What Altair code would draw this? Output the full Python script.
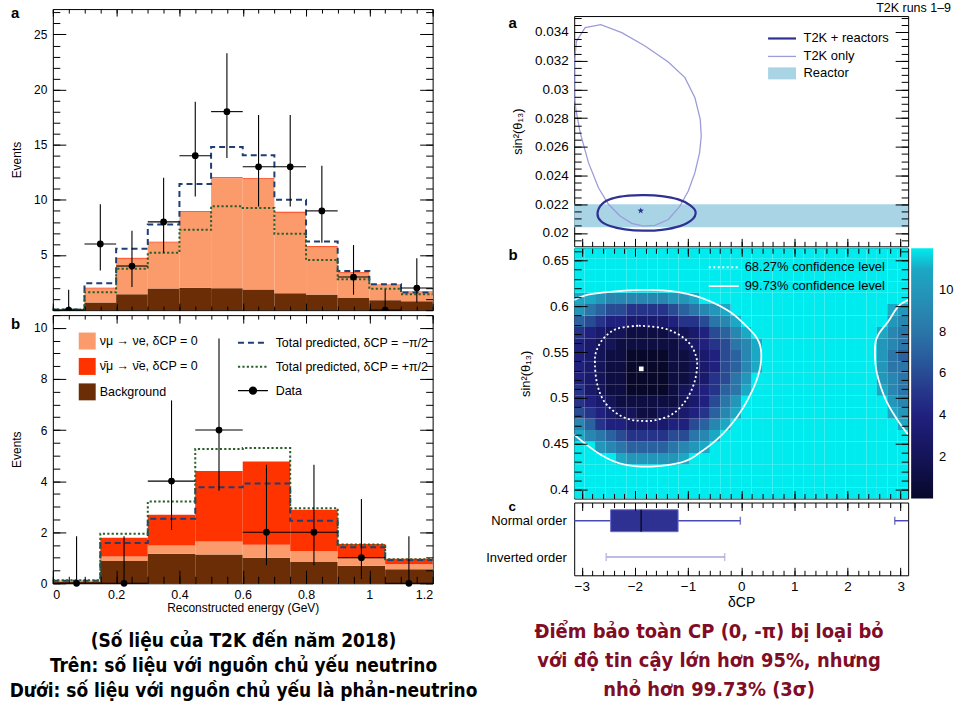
import altair as alt
import numpy as np
import pandas as pd

PI = float(np.pi)
FONT = "Liberation Sans"
CAPFONT = "Liberation Sans Narrow, DejaVu Sans Condensed, Liberation Sans"

# ---------------- colours ----------------
C_NUE, C_ANTI, C_BG = "#fb9b6c", "#ff3300", "#6b2d06"
C_MINUS, C_PLUS = "#1f3f73", "#2c5f2c"
C_T2KR, C_T2K, C_REACT = "#2e3192", "#9c9cda", "#a9d4e6"
C_CAPTION = "#800d25"

# ---------------- labels ----------------
L_NUE = "νμ → νe, δCP = 0"
L_ANTI = "ν\u0304μ → ν\u0304e, δCP = 0"
L_BG = "Background"
L_MINUS = "Total predicted, δCP = −π/2"
L_PLUS = "Total predicted, δCP = +π/2"
L_DATA = "Data"

# ================= LEFT: reconstructed energy spectra =================
# panel a : neutrino-mode sample, 0.1 GeV bins
a_edges = [0.0, 0.1, 0.2, 0.3, 0.4, 0.5, 0.6, 0.7, 0.8, 0.9, 1.0, 1.1, 1.2]
a_background = [0.05, 0.69, 1.44, 1.96, 2.02, 1.99, 1.87, 1.53, 1.41, 1.11, 0.90, 0.81]
a_nue_top = [0.07, 1.96, 4.66, 6.14, 8.93, 11.97, 11.88, 8.84, 5.72, 3.37, 2.26, 1.62]
a_anti_top = [0.08, 2.02, 4.74, 6.20, 9.00, 12.05, 11.96, 8.92, 5.80, 3.43, 2.32, 1.68]
a_pred_minus = [0.05, 2.44, 5.57, 7.76, 11.43, 14.80, 14.05, 10.02, 6.23, 3.55, 2.35, 1.60]
a_pred_plus = [0.05, 1.62, 3.76, 5.20, 7.28, 9.42, 9.27, 6.92, 4.54, 2.80, 1.93, 1.44]
a_data = [0, 6, 4, 8, 14, 18, 13, 13, 9, 3, 0, 2]
a_err_lo = [0, 3.6, 2.1, 5.2, 10.3, 13.8, 9.4, 9.4, 6.1, 1.4, 0, 0.7]
a_err_hi = [1.84, 9.6, 7.2, 12.0, 18.9, 23.3, 17.7, 17.7, 13.1, 5.9, 1.9, 4.7]

# panel b : antineutrino-mode sample, 0.15 GeV bins
b_edges = [0.0, 0.15, 0.3, 0.45, 0.6, 0.75, 0.9, 1.05, 1.2]
b_background = [0.07, 0.87, 1.16, 1.13, 1.00, 0.83, 0.69, 0.55]
b_nue_top = [0.09, 1.05, 1.48, 1.64, 1.51, 1.26, 0.98, 0.74]
b_anti_top = [0.10, 1.78, 2.68, 4.40, 4.77, 2.88, 1.54, 0.96]
b_pred_minus = [0.10, 1.58, 2.53, 3.76, 3.91, 2.45, 1.41, 0.91]
b_pred_plus = [0.12, 1.94, 3.20, 5.26, 5.30, 2.94, 1.52, 0.94]
b_data = [0, 0, 4, 6, 2, 2, 1, 0]
b_err_lo = [0, 0, 2.09, 3.62, 0.71, 0.71, 0.17, 0]
b_err_hi = [1.84, 1.84, 7.16, 9.58, 4.64, 4.64, 3.30, 1.84]

E_DOM = [0.0, 1.2]
A_DOM = [0.0, 27.3]
B_DOM = [0.0, 10.5]
e_major = [0.0, 0.2, 0.4, 0.6, 0.8, 1.0, 1.2]
e_minor = [round(0.05 * i, 2) for i in range(25)]
a_major = [5, 10, 15, 20, 25]
a_minor = list(range(0, 28))
b_major = [0, 2, 4, 6, 8, 10]
b_minor = [0.5 * i for i in range(22)]

# ================= RIGHT =================
D_DOM = [-PI, PI]
d_major = [-3, -2, -1, 0, 1, 2, 3]
d_minor = [round(-3.0 + 0.2 * i, 1) for i in range(31)]

# panel a : sin^2(theta13) vs delta_CP
t2k_only_d = [-PI, -PI, -3.098, -2.935, -2.641, -2.247, -1.809, -1.371, -1.058, -0.870, -0.770,
              -0.751, -0.782, -0.870, -0.995, -1.152, -1.371, -1.621, -1.840, -2.059, -2.278,
              -2.497, -2.685, -2.873, -3.029, -3.110, -PI]
t2k_only_s = [0.02954, 0.0318, 0.03337, 0.0343, 0.03451, 0.03395, 0.03302, 0.03191, 0.03082,
              0.02942, 0.02791, 0.02675, 0.02559, 0.0242, 0.02292, 0.02187, 0.02094, 0.02053,
              0.02048, 0.02067, 0.02118, 0.0220, 0.02315, 0.0249, 0.02699, 0.02861, 0.02954]
t2k_r_d = [-2.703, -2.622, -2.434, -2.122, -1.809, -1.496, -1.183, -0.964, -0.857, -0.932,
           -1.152, -1.496, -1.840, -2.184, -2.466, -2.641]
t2k_r_s = [0.02136, 0.0220, 0.02239, 0.0226, 0.02264, 0.02257, 0.02234, 0.02194, 0.02146,
           0.0209, 0.02048, 0.02022, 0.02016, 0.02025, 0.02048, 0.02083]
best_a = (-1.89, 0.02155)
reactor_band = (0.0204, 0.0220)
RA_DOM = [0.01907, 0.03511]
ra_major = [0.02, 0.022, 0.024, 0.026, 0.028, 0.03, 0.032, 0.034]
ra_minor = [round(0.0195 + 0.0005 * i, 4) for i in range(32)]

# panel b : delta chi^2 map (rows bottom->top, 0.0125 wide from 0.39; 32 delta columns)
# digit = delta chi^2 (hex, C = saturated)
heat_rows = [
    "C" * 32,
    "C" * 32,
    "C" * 32,
    "CCCCBAAAAAB" + "C" * 21,
    "CCA98777789AB" + "C" * 19,
    "B987655556689B" + "C" * 18,
    "97544333344679B" + "C" * 16 + "B",
    "654322112234579B" + "C" * 14 + "BA",
    "543211111123468A" + "C" * 14 + "A9",
    "5321100001234578B" + "C" * 12 + "B98",
    "4321100001123568A" + "C" * 12 + "A98",
    "43211000011234679B" + "C" * 11 + "A88",
    "43211000011234679B" + "C" * 11 + "A87",
    "43221111112345689B" + "C" * 11 + "A98",
    "5432211112234679B" + "C" * 12 + "B98",
    "765443333455689B" + "C" * 14 + "A9",
    "A876655556789AB" + "C" * 15 + "BA",
    "BBA999999AAB" + "C" * 20,
    "C" * 32,
    "C" * 32,
    "C" * 32,
    "C" * 32,
]
heat_s0, heat_ds = 0.39, 0.0125
heat_stops = [0, 1, 2, 3, 4, 5, 6, 7, 8, 9, 10, 11, 11.8, 12]
heat_colors = ["#08082a", "#0e0e42", "#141458", "#1a1a6c", "#20217e", "#253488", "#284b94",
               "#2a619f", "#2a76a9", "#2887b1", "#2397b9", "#1ba8c4", "#14bccf", "#00ebee"]
cl68_d = [-1.925, -1.487, -1.174, -0.955, -0.849, -0.830, -0.893, -1.049, -1.299, -1.612, -1.863,
          -2.113, -2.363, -2.582, -2.707, -2.751, -2.726, -2.582, -2.332, -1.925]
cl68_s = [0.5789, 0.5764, 0.5692, 0.5583, 0.5456, 0.5329, 0.5148, 0.4967, 0.4822, 0.4757, 0.475,
          0.4768, 0.484, 0.4967, 0.5148, 0.5366, 0.5511, 0.5655, 0.5757, 0.5789]
cl997_left_d = [-PI, -2.86, -2.24, -1.74, -1.236, -0.737, -0.236, 0.14, 0.327, 0.378, 0.34, 0.20,
                -0.046, -0.36, -0.737, -1.11, -1.74, -2.24, -2.61, -2.93, -PI]
cl997_left_s = [0.607, 0.613, 0.617, 0.618, 0.616, 0.609, 0.595, 0.576, 0.562, 0.547, 0.529, 0.507,
                0.482, 0.460, 0.442, 0.430, 0.425, 0.428, 0.437, 0.450, 0.460]
cl997_right_d = [PI, 2.956, 2.768, 2.58, 2.518, 2.548, 2.706, 2.93, PI]
cl997_right_s = [0.607, 0.600, 0.5837, 0.569, 0.555, 0.529, 0.50, 0.477, 0.46]
best_b = (-1.88, 0.5318)
RB_DOM = [0.3902, 0.6634]
rb_major = [0.4, 0.45, 0.5, 0.55, 0.6, 0.65]
rb_minor = [round(0.39 + 0.01 * i, 2) for i in range(28)]
L68, L997 = "68.27% confidence level", "99.73% confidence level"

# panel c : 1D intervals
orders = ["Normal order", "Inverted order"]
box_q1, box_med, box_q3 = -2.456, -1.882, -1.187
normal_whiskers = [(-PI, -0.016), (2.89, PI)]
inverted_whisker = (-2.54, -0.31)

DATA_SYM = ("M-3,0H3M-0.7,0A0.7,0.7,0,1,0,0.7,0A0.7,0.7,0,1,0,-0.7,0Z"
            "M-0.45,0A0.45,0.45,0,1,0,0.45,0A0.45,0.45,0,1,0,-0.45,0Z"
            "M-0.2,0A0.2,0.2,0,1,0,0.2,0A0.2,0.2,0,1,0,-0.2,0Z")
LINE_SYM = "M-3,0H3"
LINE_SYM_R = "M-2.8,0H2.8"
RECT_SYM = "M-2.8,-1.2H2.8V1.2H-2.8Z"
STAR = "M0,-1L0.24,-0.33L0.95,-0.31L0.38,0.12L0.59,0.81L0,0.4L-0.59,0.81L-0.38,0.12L-0.95,-0.31L-0.24,-0.33Z"


# ---------------- helpers ----------------
def qx(field, dom, **kw):
    return alt.X(f"{field}:Q", scale=alt.Scale(domain=dom, nice=False, zero=False), axis=None, **kw)


def qy(field, dom, **kw):
    return alt.Y(f"{field}:Q", scale=alt.Scale(domain=dom, nice=False, zero=False), axis=None, **kw)


def ynom(axis=None):
    return alt.Y("o:N", scale=alt.Scale(domain=orders, type="point", padding=0.5), axis=axis, title=None)


def tick_axis(orient, values, size, labels=False, fmt=None, title=None, lsize=12, lpad=5,
              tpad=None, tsize=12):
    ax = dict(orient=orient, values=values, tickSize=size, offset=-size, domain=False, grid=False,
              labels=labels, ticks=True, tickColor="black", tickWidth=1, zindex=1)
    if labels:
        ax.update(labelFont=FONT, labelFontSize=lsize, labelColor="black", labelPadding=lpad)
        if fmt:
            ax["format"] = fmt
    if title:
        ax.update(titleFont=FONT, titleFontSize=tsize, titleFontWeight="normal", titleColor="black")
        if tpad is not None:
            ax["titlePadding"] = tpad
    return alt.Axis(**ax)


def xaxis_layer(dom, ydom, orient, values, size, **kw):
    title = kw.get("title")
    if ydom is None:
        df = pd.DataFrame({"ax": [dom[0]], "o": [orders[0]]})
        yenc = ynom()
    else:
        df = pd.DataFrame({"ax": [dom[0]], "ay": [ydom[0]]})
        yenc = qy("ay", ydom)
    return alt.Chart(df).mark_point(opacity=0, size=0).encode(
        x=alt.X("ax:Q", scale=alt.Scale(domain=dom, nice=False, zero=False),
                axis=tick_axis(orient, values, size, **kw), title=title if title else None),
        y=yenc)


def yaxis_layer(dom, xdom, orient, values, size, **kw):
    title = kw.get("title")
    df = pd.DataFrame({"ay": [dom[0]], "ax": [xdom[0]]})
    return alt.Chart(df).mark_point(opacity=0, size=0).encode(
        y=alt.Y("ay:Q", scale=alt.Scale(domain=dom, nice=False, zero=False),
                axis=tick_axis(orient, values, size, **kw), title=title if title else None),
        x=qx("ax", xdom))


def letter_layer(txt, x, y, size=15, align="left"):
    df = pd.DataFrame({"t": [txt]})
    return alt.Chart(df).mark_text(align=align, baseline="middle", fontWeight="bold", fontSize=size,
                                   font=FONT, color="black").encode(
        x=alt.value(x), y=alt.value(y), text="t:N")


def step_df(edges, vals, name):
    ys = list(vals) + [vals[-1]]
    return pd.DataFrame({"e": list(edges), "v": ys, "series": name, "k": list(range(len(edges)))})


def left_panel(edges, bg, nue, anti, minus, plus, data, lo, hi, ydom, height, ymaj, ymin,
               letter, letter_y, bottom_labels, legends, xt_top, xt_bot, clip_pts):
    rows = []
    for i in range(len(bg)):
        rows.append(dict(x0=edges[i], x1=edges[i + 1], y0=0.0, y1=bg[i], comp=L_BG))
        rows.append(dict(x0=edges[i], x1=edges[i + 1], y0=bg[i], y1=nue[i], comp=L_NUE))
        rows.append(dict(x0=edges[i], x1=edges[i + 1], y0=nue[i], y1=anti[i], comp=L_ANTI))
    rdf = pd.DataFrame(rows)
    fill_leg = None
    line_leg = None
    data_leg = None
    if legends:
        fill_leg = alt.Legend(orient="none", legendX=26, legendY=17.5, title=None, symbolType="square",
                              symbolSize=289, symbolStrokeWidth=0, labelFont=FONT, labelFontSize=12.5,
                              labelColor="black", rowPadding=8.5, labelOffset=4, padding=0,
                              labelLimit=400)
        line_leg = alt.Legend(orient="none", legendX=194.5, legendY=21.5, title=None,
                              symbolType=LINE_SYM, symbolSize=100, symbolStrokeWidth=2,
                              symbolFillColor="transparent", labelFont=FONT, labelFontSize=12.5,
                              labelColor="black", rowPadding=11, labelOffset=16.5, padding=0,
                              labelLimit=400)
        data_leg = alt.Legend(orient="none", legendX=194.5, legendY=69.5, title=None,
                              symbolType=DATA_SYM, symbolSize=100, symbolStrokeWidth=1.3,
                              symbolFillColor="black", symbolStrokeColor="black", labelFont=FONT,
                              labelFontSize=12.5, labelColor="black", labelOffset=16.5, padding=0)
    rect = alt.Chart(rdf).mark_rect().encode(
        x=qx("x0", E_DOM), x2="x1", y=qy("y0", ydom), y2="y1",
        color=alt.Color("comp:N", scale=alt.Scale(domain=[L_NUE, L_ANTI, L_BG],
                                                   range=[C_NUE, C_ANTI, C_BG]), legend=fill_leg))
    sdf = pd.concat([step_df(edges, minus, L_MINUS), step_df(edges, plus, L_PLUS)])
    lines = alt.Chart(sdf).mark_line(interpolate="step-after", strokeWidth=2).encode(
        x=qx("e", E_DOM), y=qy("v", ydom),
        stroke=alt.Stroke("series:N", scale=alt.Scale(domain=[L_MINUS, L_PLUS], range=[C_MINUS, C_PLUS]),
                          legend=line_leg),
        strokeDash=alt.StrokeDash("series:N", scale=alt.Scale(domain=[L_MINUS, L_PLUS],
                                                              range=[[6, 4], [2.2, 2.2]]),
                                  legend=line_leg),
        order="k:Q")
    centers = [(edges[i] + edges[i + 1]) / 2 for i in range(len(data))]
    ddf = pd.DataFrame({"c": centers, "n": data, "lo": lo, "hi": hi, "l": edges[:-1],
                        "r": edges[1:], "lab": L_DATA})
    vbar = alt.Chart(ddf).mark_rule(color="black", strokeWidth=1.1).encode(
        x=qx("c", E_DOM), y=qy("lo", ydom), y2="hi")
    henc = dict(x=qx("l", E_DOM), x2="r", y=qy("n", ydom))
    if legends:
        henc["opacity"] = alt.Opacity("lab:N", scale=alt.Scale(domain=[L_DATA], range=[1.0]),
                                      legend=data_leg)
    hbar = alt.Chart(ddf).mark_rule(color="black", strokeWidth=1.1).encode(**henc)
    pts = alt.Chart(ddf).mark_point(filled=True, fill="black", stroke="black", strokeWidth=1.3,
                                    size=30, opacity=1, clip=clip_pts).encode(
        x=qx("c", E_DOM), y=qy("n", ydom))

    axes = [
        yaxis_layer(ydom, E_DOM, "left", ymaj, 13, labels=True, title="Events", tpad=10, lsize=12, lpad=6),
        yaxis_layer(ydom, E_DOM, "left", ymin, 7),
        yaxis_layer(ydom, E_DOM, "right", ymaj, 13),
        yaxis_layer(ydom, E_DOM, "right", ymin, 7),
        xaxis_layer(E_DOM, ydom, "top", e_major, xt_top[0]),
        xaxis_layer(E_DOM, ydom, "top", e_minor, xt_top[1]),
    ]
    if bottom_labels:
        axes.append(xaxis_layer(E_DOM, ydom, "bottom", e_major, xt_bot[0], labels=True, fmt=".1~f",
                                title="Reconstructed energy (GeV)", tpad=2, lsize=12.5, lpad=5))
    else:
        axes.append(xaxis_layer(E_DOM, ydom, "bottom", e_major, xt_bot[0]))
    axes.append(xaxis_layer(E_DOM, ydom, "bottom", e_minor, xt_bot[1]))
    lay = alt.layer(rect, lines, vbar, hbar, pts, *axes, letter_layer(letter, -42, letter_y))
    return lay.resolve_axis(x="independent", y="independent").properties(width=381, height=height)


A_L = left_panel(a_edges, a_background, a_nue_top, a_anti_top, a_pred_minus, a_pred_plus, a_data,
                 a_err_lo, a_err_hi, A_DOM, 302, a_major, a_minor, "a", 4, False, False,
                 (7, 4), (7, 4), True)
B_L = left_panel(b_edges, b_background, b_nue_top, b_anti_top, b_pred_minus, b_pred_plus, b_data,
                 b_err_lo, b_err_hi, B_DOM, 269, b_major, b_minor, "b", 9, True, True,
                 (8, 4), (13, 7), False)

# ---------------- right column header ----------------
header = alt.Chart(pd.DataFrame({"t": ["T2K runs 1–9"]})).mark_text(
    align="right", baseline="middle", fontSize=12.5, font=FONT, color="black").encode(
    x=alt.value(378), y=alt.value(-1), text="t:N").properties(
    width=335, height=3.5, view=alt.ViewConfig(stroke="transparent"))

# ---------------- right panel a ----------------
band_df = pd.DataFrame({"d0": [D_DOM[0]], "d1": [D_DOM[1]], "s0": [reactor_band[0]],
                        "s1": [reactor_band[1]], "lab": ["Reactor"]})
band = alt.Chart(band_df).mark_rect().encode(
    x=qx("d0", D_DOM), x2="d1", y=qy("s0", RA_DOM), y2="s1",
    color=alt.Color("lab:N", scale=alt.Scale(domain=["Reactor"], range=[C_REACT]),
                    legend=alt.Legend(orient="none", legendX=202, legendY=51, title=None,
                                      symbolType=RECT_SYM, symbolSize=100, symbolStrokeWidth=0,
                                      labelFont=FONT, labelFontSize=13, labelColor="black",
                                      labelOffset=15, padding=0)))
SER = ["T2K + reactors", "T2K only"]
stroke_sc = alt.Scale(domain=SER, range=[C_T2KR, C_T2K])
width_sc = alt.Scale(domain=SER, range=[2.2, 1.3])
only_df = pd.DataFrame({"d": t2k_only_d, "s": t2k_only_s, "series": SER[1], "k": range(len(t2k_only_d))})
ell_df = pd.DataFrame({"d": t2k_r_d, "s": t2k_r_s, "series": SER[0], "k": range(len(t2k_r_d))})
cont_leg = alt.Legend(orient="none", legendX=202, legendY=16, title=None,
                      symbolType=LINE_SYM_R, symbolSize=100, symbolStrokeWidth=1.8,
                      symbolFillColor="transparent", labelFont=FONT,
                      labelFontSize=13, labelColor="black", labelOffset=15,
                      rowPadding=4, padding=0)
cont = alt.Chart(only_df).mark_line(clip=True).encode(
    x=qx("d", D_DOM), y=qy("s", RA_DOM), order="k:Q",
    stroke=alt.Stroke("series:N", scale=stroke_sc, legend=cont_leg),
    strokeWidth=alt.StrokeWidth("series:N", scale=width_sc, legend=None))
ell = alt.Chart(ell_df).mark_line(clip=True, interpolate="cardinal-closed").encode(
    x=qx("d", D_DOM), y=qy("s", RA_DOM), order="k:Q",
    stroke=alt.Stroke("series:N", scale=stroke_sc, legend=cont_leg),
    strokeWidth=alt.StrokeWidth("series:N", scale=width_sc, legend=None))
star = alt.Chart(pd.DataFrame({"d": [best_a[0]], "s": [best_a[1]]})).mark_point(
    shape=STAR, filled=True, color=C_T2KR, size=45, opacity=1).encode(x=qx("d", D_DOM), y=qy("s", RA_DOM))
ra_axes = [
    yaxis_layer(RA_DOM, D_DOM, "left", ra_major, 13, labels=True, fmt=".3~f", title="sin²(θ₁₃)",
                tpad=10, lsize=13.5, lpad=6, tsize=13),
    yaxis_layer(RA_DOM, D_DOM, "left", ra_minor, 7),
    yaxis_layer(RA_DOM, D_DOM, "right", ra_major, 13),
    yaxis_layer(RA_DOM, D_DOM, "right", ra_minor, 7),
    xaxis_layer(D_DOM, RA_DOM, "bottom", d_major, 8),
    xaxis_layer(D_DOM, RA_DOM, "bottom", d_minor, 5),
]
A_R = alt.layer(band, cont, ell, star, *ra_axes, letter_layer("a", -66, 7)).resolve_axis(
    x="independent", y="independent").properties(width=335, height=231)

# ---------------- right panel b ----------------
ncol = len(heat_rows[0])
d_edges = np.linspace(-PI, PI, ncol + 1)
cells = []
for r, row in enumerate(heat_rows):
    for c, ch in enumerate(row):
        cells.append(dict(d0=d_edges[c], d1=d_edges[c + 1], s0=heat_s0 + r * heat_ds,
                          s1=heat_s0 + (r + 1) * heat_ds, v=int(ch, 16)))
hdf = pd.DataFrame(cells)
heat_scale = alt.Scale(domain=heat_stops, range=heat_colors, interpolate="rgb", clamp=True)
heat = alt.Chart(hdf).mark_rect(clip=True).encode(
    x=qx("d0", D_DOM), x2="d1", y=qy("s0", RB_DOM), y2="s1",
    color=alt.Color("v:Q", scale=heat_scale,
                    legend=alt.Legend(type="gradient", orient="none", legendX=338, legendY=0,
                                      title=None, direction="vertical", gradientLength=251,
                                      gradientThickness=22, gradientStrokeWidth=0,
                                      values=[2, 4, 6, 8, 10], labelFont=FONT, labelFontSize=13,
                                      labelColor="black", labelOffset=6, padding=0)))
cl_df = pd.concat([
    pd.DataFrame({"d": cl68_d, "s": cl68_s, "cl": L68, "piece": "p68", "k": range(len(cl68_d))}),
    pd.DataFrame({"d": cl997_left_d, "s": cl997_left_s, "cl": L997, "piece": "pl",
                  "k": range(len(cl997_left_d))}),
    pd.DataFrame({"d": cl997_right_d, "s": cl997_right_s, "cl": L997, "piece": "pr",
                  "k": range(len(cl997_right_d))}),
])
cl_lines = alt.Chart(cl_df).mark_line(color="white", strokeWidth=1.8, clip=True,
                                      interpolate="cardinal").encode(
    x=qx("d", D_DOM), y=qy("s", RB_DOM), order="k:Q", detail="piece:N",
    strokeDash=alt.StrokeDash("cl:N", scale=alt.Scale(domain=[L68, L997], range=[[2, 2.5], [1, 0]]),
                              legend=alt.Legend(orient="none", legendX=143.5, legendY=12.5, title=None,
                                                symbolType=LINE_SYM, symbolSize=100,
                                                symbolStrokeColor="white", symbolStrokeWidth=1.8,
                                                symbolFillColor="transparent", labelFont=FONT,
                                                labelFontSize=13, labelColor="black", labelOffset=14.5,
                                                rowPadding=5, padding=0)))
bf = alt.Chart(pd.DataFrame({"d": [best_b[0]], "s": [best_b[1]]})).mark_point(
    shape="square", filled=True, color="white", size=22, opacity=1).encode(
    x=qx("d", D_DOM), y=qy("s", RB_DOM))
rb_axes = [
    yaxis_layer(RB_DOM, D_DOM, "left", rb_major, 13, labels=True, fmt=".2~f", title="sin²(θ₁₃)",
                tpad=10, lsize=13.5, lpad=6, tsize=13),
    yaxis_layer(RB_DOM, D_DOM, "left", rb_minor, 7),
    yaxis_layer(RB_DOM, D_DOM, "right", rb_major, 13),
    yaxis_layer(RB_DOM, D_DOM, "right", rb_minor, 7),
    xaxis_layer(D_DOM, RB_DOM, "top", d_major, 8),
    xaxis_layer(D_DOM, RB_DOM, "top", d_minor, 5),
    xaxis_layer(D_DOM, RB_DOM, "bottom", d_major, 8),
    xaxis_layer(D_DOM, RB_DOM, "bottom", d_minor, 5),
]
B_R = alt.layer(heat, cl_lines, bf, *rb_axes, letter_layer("b", -66, 7)).resolve_axis(
    x="independent", y="independent").properties(width=335, height=251)

# ---------------- right panel c ----------------
wdf = pd.DataFrame({
    "o": ["Normal order", "Normal order", "Inverted order"],
    "lo": [normal_whiskers[0][0], normal_whiskers[1][0], inverted_whisker[0]],
    "hi": [normal_whiskers[0][1], normal_whiskers[1][1], inverted_whisker[1]],
})
ocol = alt.Color("o:N", scale=alt.Scale(domain=orders, range=["#4a4ab4", "#a6a6dc"]), legend=None)
whisk = alt.Chart(wdf).mark_rule(strokeWidth=1.5).encode(x=qx("lo", D_DOM), x2="hi", y=ynom(), color=ocol)
caps_df = pd.DataFrame({"o": ["Normal order", "Normal order", "Inverted order", "Inverted order"],
                        "x": [normal_whiskers[0][1], normal_whiskers[1][0], inverted_whisker[0],
                              inverted_whisker[1]]})
caps = alt.Chart(caps_df).mark_tick(size=8, thickness=1.5).encode(x=qx("x", D_DOM), y=ynom(), color=ocol)
box_df = pd.DataFrame({"o": ["Normal order"], "q1": [box_q1], "q3": [box_q3], "med": [box_med]})
box = alt.Chart(box_df).mark_bar(size=22, color=C_T2KR, stroke="#6a6ad0", strokeWidth=1).encode(
    x=qx("q1", D_DOM), x2="q3",
    y=ynom(alt.Axis(ticks=False, domain=False, labelFont=FONT, labelFontSize=13,
                    labelColor="black", labelPadding=8, grid=False)))
med = alt.Chart(box_df).mark_tick(size=22, thickness=1.6, color="black").encode(x=qx("med", D_DOM), y=ynom())
rc_axes = [
    xaxis_layer(D_DOM, None, "bottom", d_major, 8, labels=True, fmt="d", title="δCP", tpad=3,
                lsize=13.5, lpad=4, tsize=14),
    xaxis_layer(D_DOM, None, "bottom", d_minor, 5),
    xaxis_layer(D_DOM, None, "top", d_major, 8),
    xaxis_layer(D_DOM, None, "top", d_minor, 5),
]
C_R = alt.layer(whisk, caps, box, med, *rc_axes, letter_layer("c", -66, 5, size=13.5)).resolve_axis(
    x="independent", y="independent").properties(width=335, height=73)

RES = dict(color="independent", stroke="independent", strokeDash="independent",
           opacity="independent", strokeWidth="independent")

left = alt.vconcat(A_L, B_L, spacing=0).resolve_scale(**RES).properties(
    title=alt.TitleParams(text=["(Số liệu của T2K đến năm 2018)",
                                "Trên: số liệu với nguồn chủ yếu neutrino",
                                "Dưới: số liệu với nguồn chủ yếu là phản-neutrino"],
                          orient="bottom", anchor="middle", font=CAPFONT, fontSize=19,
                          fontWeight="bold", color="black", lineHeight=25, offset=18, dx=20))
right = alt.vconcat(header, A_R, B_R, C_R, spacing=0).resolve_scale(**RES).properties(
    title=alt.TitleParams(text=["Điểm bảo toàn CP (0, -π) bị loại bỏ",
                                "với độ tin cậy lớn hơn 95%, nhưng",
                                "nhỏ hơn 99.73% (3σ)"],
                          orient="bottom", anchor="middle", font=CAPFONT, fontSize=20,
                          fontWeight="bold", color=C_CAPTION, lineHeight=29, offset=12, dx=-10.75))

chart = alt.hconcat(left, right, spacing=7).resolve_scale(**RES).properties(
    padding={"left": 9, "top": 0, "right": 0, "bottom": 0}
).configure(font=FONT).configure_view(stroke="black", strokeWidth=1)

chart.save("out.html", embed_options={"renderer": "svg", "actions": False})
